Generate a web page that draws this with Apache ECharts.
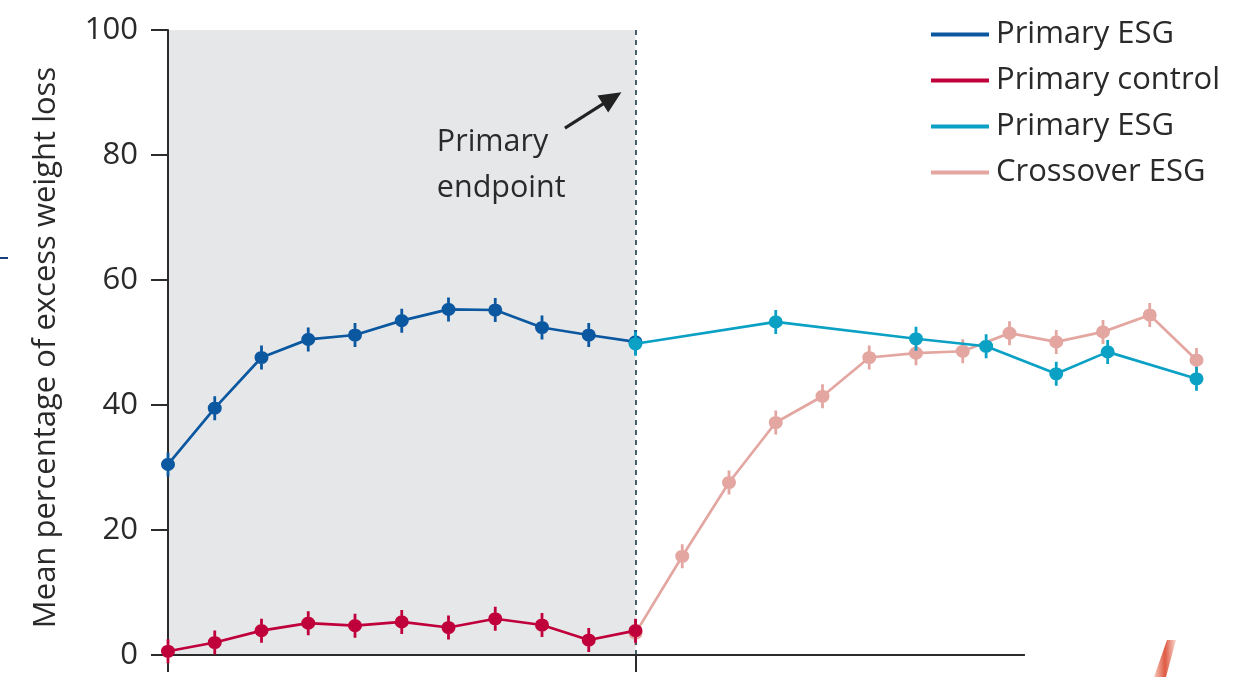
<!DOCTYPE html>
<html>
<head>
<meta charset="utf-8">
<script src="https://cdn.jsdelivr.net/npm/echarts@6/dist/echarts.min.js"></script>
<style>
html,body{margin:0;padding:0;background:#fff;}
#chart{width:1242px;height:677px;}
</style>
</head>
<body>
<div id="chart"></div>
<script>
// ---- data (x in visit index units, y = mean % excess weight loss) ----
const primaryX = [0, 1, 2, 3, 4, 5, 6, 7, 8, 9, 10];
const primaryEsgY = [30.5, 39.5, 47.6, 50.5, 51.2, 53.5, 55.3, 55.2, 52.4, 51.2, 50.1];
const primaryControlY = [0.6, 2.0, 3.9, 5.1, 4.7, 5.3, 4.4, 5.8, 4.8, 2.4, 3.9];
const followX = [10, 13, 16, 17.5, 19, 20.1, 22];
const followEsgY = [49.8, 53.3, 50.6, 49.4, 45.0, 48.5, 44.2];
const crossoverX = [10, 11, 12, 13, 14, 15, 16, 17, 18, 19, 20, 21, 22];
const crossoverY = [3.5, 15.8, 27.6, 37.2, 41.4, 47.6, 48.3, 48.6, 51.5, 50.1, 51.7, 54.4, 47.2];
const yTicks = [0, 20, 40, 60, 80, 100];
const endpointX = 10;
const xAxisLineEnd = 18.33;
const legendNames = ['Primary ESG', 'Primary control', 'Primary ESG ', 'Crossover ESG'];

const pair = (xs, ys) => xs.map((x, i) => [x, ys[i]]);

const FONT = '"Open Sans", "Noto Sans", sans-serif';
const TXT = '#2a2a2a';
const AX = '#2b2b2b';
const markerPath = 'path://M0,11A6,6,0,1,1,12,11A6,6,0,1,1,0,11ZM4.8,0L7.2,0L7.2,22L4.8,22Z';

function lineSeries(name, data, color, z) {
  return {
    name: name, type: 'line', data: data, z: z,
    symbol: markerPath, symbolSize: [14, 24], showSymbol: true,
    lineStyle: {color: color, width: 2.7},
    itemStyle: {color: color},
    emphasis: {disabled: true},
    animation: false
  };
}

const chart = echarts.init(document.getElementById('chart'), null, {renderer: 'canvas'});
chart.setOption({
  animation: false,
  backgroundColor: '#ffffff',
  textStyle: {fontFamily: FONT},
  grid: {left: 168, top: 30, right: 22, bottom: 22, containLabel: false},
  legend: {
    data: legendNames,
    orient: 'vertical', left: 931, top: 19, padding: 0,
    icon: 'rect', itemWidth: 58, itemHeight: 4, itemGap: 15,
    formatter: n => n.trim(),
    textStyle: {fontFamily: FONT, fontSize: 31, lineHeight: 30, color: TXT, padding: [0, 0, 0, 2]},
    selectedMode: false
  },
  xAxis: {
    type: 'value', min: 0, max: 1052 / 46.75, z: 1,
    axisLine: {show: false},
    axisTick: {show: true, customValues: [0, endpointX], length: 17, lineStyle: {color: AX, width: 2}},
    axisLabel: {show: false},
    splitLine: {show: false}
  },
  yAxis: {
    type: 'value', min: 0, max: 100, interval: 20, z: 1,
    name: 'Mean percentage of excess weight loss',
    nameLocation: 'middle', nameGap: 106, nameRotate: 90,
    nameTextStyle: {fontFamily: FONT, fontSize: 31, color: TXT, padding: [0, 10, 0, 0]},
    axisLine: {show: true, lineStyle: {color: AX, width: 2}},
    axisTick: {show: true, length: 17, lineStyle: {color: AX, width: 2}},
    axisLabel: {fontFamily: FONT, fontSize: 31, color: TXT, margin: 30,
      formatter: v => yTicks.includes(v) ? String(v) : ''},
    splitLine: {show: false}
  },
  series: [
    {
      name: 'bg', type: 'line', data: [], z: 0, silent: true,
      markArea: {
        silent: true,
        itemStyle: {color: '#e6e7e9'},
        data: [[{coord: [0, 0]}, {coord: [endpointX, 100]}]]
      },
      markLine: {
        silent: true, symbol: ['none', 'none'],
        label: {show: false},
        lineStyle: {color: '#33505e', width: 1.8, type: [5, 5]},
        data: [{xAxis: endpointX}]
      }
    },
    {
      name: 'xline', type: 'line', data: [], z: 1, silent: true,
      markLine: {
        silent: true, symbol: ['none', 'none'],
        label: {show: false},
        lineStyle: {color: AX, width: 2, type: 'solid'},
        data: [[{coord: [0, 0]}, {coord: [xAxisLineEnd, 0]}]]
      }
    },
    {
      name: 'annot', type: 'line', data: [], z: 3, silent: true,
      markLine: {
        silent: true, symbol: ['none', 'triangle'], symbolSize: [20, 22],
        label: {show: false},
        lineStyle: {color: '#222222', width: 3, type: 'solid'},
        data: [[{coord: [8.49, 84.3]}, {coord: [9.5, 89.1]}]]
      },
      markPoint: {
        silent: true, symbol: 'circle', symbolSize: 0,
        label: {show: true, position: 'right', distance: 0,
          formatter: 'Primary\nendpoint', fontFamily: FONT, fontSize: 30.5, lineHeight: 46, color: TXT},
        data: [{coord: [5.75, 78.4]}]
      }
    },
    lineSeries(legendNames[3], pair(crossoverX, crossoverY), '#e3a6a1', 4),
    lineSeries(legendNames[1], pair(primaryX, primaryControlY), '#c0003b', 5),
    lineSeries(legendNames[0], pair(primaryX, primaryEsgY), '#0b57a0', 6),
    lineSeries(legendNames[2], pair(followX, followEsgY), '#0aa1c5', 7)
  ],
  graphic: [
    {type: 'line', shape: {x1: 0, y1: 258, x2: 8, y2: 258}, style: {stroke: '#1a3e78', lineWidth: 2}, silent: true},
    {type: 'polygon', shape: {points: [[1167, 640], [1176, 640], [1166, 677], [1154, 677]]},
     style: {fill: new echarts.graphic.LinearGradient(0, 0, 1, 0, [
       {offset: 0, color: '#f6c9bd'}, {offset: 0.5, color: '#de5a43'}, {offset: 1, color: '#f8d8cf'}])},
     silent: true}
  ]
});
</script>
</body>
</html>
